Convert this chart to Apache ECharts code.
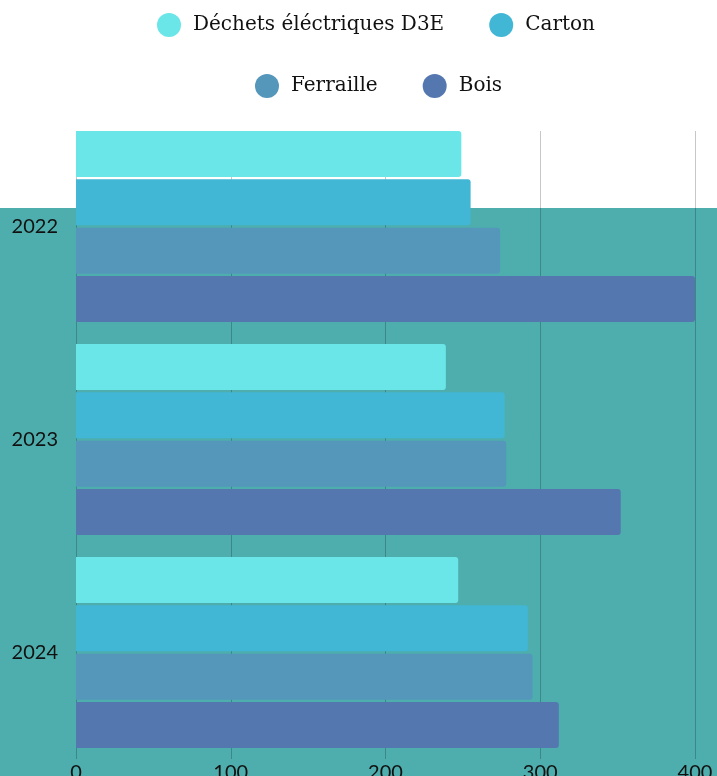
<!DOCTYPE html>
<html>
<head>
<meta charset="utf-8">
<script src="https://cdn.jsdelivr.net/npm/echarts@6/dist/echarts.min.js"></script>
<style>
  html, body { margin: 0; padding: 0; background: #fff; }
  #chart { width: 717px; height: 776px; }
</style>
</head>
<body>
<div id="chart"></div>
<script>
// années (axe vertical)
const years = ['2022', '2023', '2024']
const xTicks = [0, 100, 200, 300, 400]

// tonnages par type de déchet
const d3e = [249, 239, 247]
const carton = [255, 277, 292]
const ferraille = [274, 278, 295]
const bois = [400, 352, 312]

const colors = {
  d3e: '#6ae5e8',
  carton: '#41b7d5',
  ferraille: '#5596bb',
  bois: '#5577b0'
}

const myChart = echarts.init(document.getElementById('chart'))

const legendText = {
  fontFamily: 'DejaVu Serif',
  fontSize: 20,
  color: '#111',
  padding: [0, 0, 0, 7]
}

function barSerie(name, data, color) {
  return {
    name: name,
    type: 'bar',
    data: data,
    barGap: '5%',
    barCategoryGap: '10.3%',
    itemStyle: {
      color: color,
      borderRadius: [0, 3, 3, 0]
    }
  }
}

const option = {
  animation: false,
  graphic: [
    {
      // bandeau turquoise derrière le graphique
      type: 'rect',
      z: -10,
      shape: { x: 0, y: 208, width: 717, height: 568 },
      style: { fill: '#4daead' }
    },
    {
      type: 'rect',
      z: 1,
      shape: { x: 0, y: 110, width: 717, height: 21 },
      style: { fill: '#fff' }
    }
  ],
  legend: [
    {
      top: 8,
      left: 152,
      icon: 'circle',
      itemWidth: 24,
      itemHeight: 24,
      itemGap: 45,
      textStyle: legendText,
      data: ['Déchets éléctriques D3E', 'Carton']
    },
    {
      top: 69,
      left: 250,
      icon: 'circle',
      itemWidth: 24,
      itemHeight: 24,
      itemGap: 45,
      textStyle: legendText,
      data: ['Ferraille', 'Bois']
    }
  ],
  grid: {
    left: 76,
    right: 22,
    top: 120,
    bottom: 17,
    containLabel: false,
    outerBoundsMode: 'none'
  },
  xAxis: {
    type: 'value',
    min: xTicks[0],
    max: xTicks[xTicks.length - 1],
    interval: 100,
    axisLine: { show: false },
    axisTick: { show: false },
    axisLabel: {
      margin: 4,
      fontFamily: 'Lato',
      fontSize: 20,
      color: '#111'
    },
    splitLine: {
      lineStyle: { color: 'rgba(0, 0, 0, 0.22)', width: 1 }
    }
  },
  yAxis: {
    type: 'category',
    inverse: true,
    data: years,
    axisLine: { show: false },
    axisTick: { show: false },
    axisLabel: {
      margin: 18,
      fontFamily: 'Lato',
      fontSize: 20,
      color: '#111'
    }
  },
  series: [
    barSerie('Déchets éléctriques D3E', d3e, colors.d3e),
    barSerie('Carton', carton, colors.carton),
    barSerie('Ferraille', ferraille, colors.ferraille),
    barSerie('Bois', bois, colors.bois)
  ]
}

myChart.setOption(option)
</script>
</body>
</html>
